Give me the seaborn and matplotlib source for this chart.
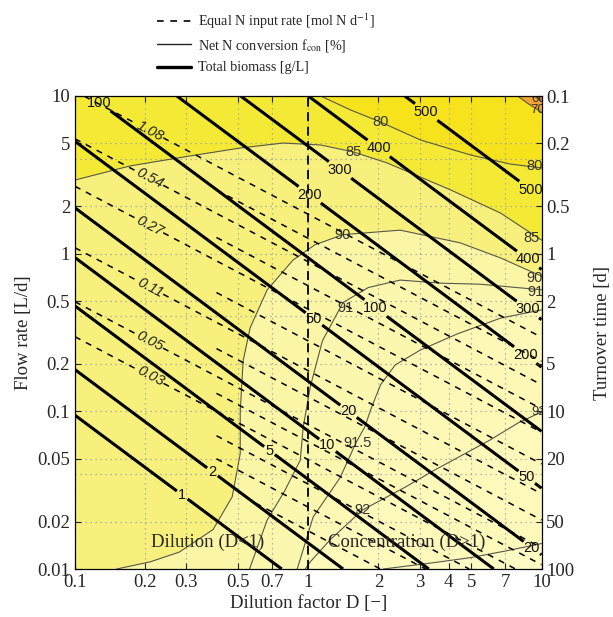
import numpy as np
import matplotlib
matplotlib.use("Agg")
import matplotlib.pyplot as plt
from matplotlib.lines import Line2D
from matplotlib.ticker import FixedLocator, FixedFormatter, NullLocator
import seaborn as sns

# net N conversion f_con [%] : contour lines, (D, Q) points
c60_d = [9.3, 9.7, 10.0]
c60_q = [10.0, 9.6, 9.2]
c70_d = [7.9, 8.8, 10.0]
c70_q = [10.0, 8.9, 7.9]
c80_d = [1.13, 1.52, 2.04, 3.03, 4.95, 7.36, 10.0]
c80_q = [10.0, 8.15, 6.84, 5.26, 4.23, 3.70, 3.50]
c85_d = [0.10, 0.172, 0.291, 0.511, 0.781, 1.13, 1.56, 2.18, 4.07, 6.67, 10.0]
c85_q = [2.93, 3.60, 4.10, 4.68, 5.03, 4.89, 4.42, 3.76, 2.54, 1.81, 1.22]
c90_d = [0.151, 0.21, 0.28, 0.391, 0.472, 0.511, 0.511, 0.526, 0.564, 0.667, 0.86,
         1.07, 1.41, 2.48, 4.49, 6.67, 10.0]
c90_q = [0.010, 0.0111, 0.0128, 0.0178, 0.0287, 0.054, 0.10, 0.21, 0.34, 0.59, 0.91,
         1.14, 1.32, 1.41, 1.17, 0.94, 0.72]
c91_d = [0.56, 0.667, 0.79, 0.924, 0.952, 1.02, 1.15, 1.41, 1.81, 2.48, 3.69, 5.47, 10.0]
c91_q = [0.010, 0.0205, 0.031, 0.049, 0.080, 0.143, 0.28, 0.49, 0.61, 0.68, 0.65, 0.64, 0.59]
c915_d = [0.897, 1.05, 1.37, 1.6, 1.75, 1.85, 2.04, 2.36, 3.03, 4.36, 6.67, 10.0]
c915_q = [0.010, 0.0214, 0.038, 0.063, 0.080, 0.102, 0.147, 0.197, 0.245, 0.31, 0.39, 0.44]
c92_d = [0.97, 1.02, 1.24, 1.71, 2.6, 3.44, 4.6, 6.04, 8.0, 10.0]
c92_q = [0.010, 0.0111, 0.0153, 0.0237, 0.033, 0.042, 0.053, 0.066, 0.085, 0.099]
c925_d = [2.1, 3.34, 4.95, 7.0, 10.0]
c925_q = [0.010, 0.0109, 0.0118, 0.013, 0.0145]

fcon_text = ["60", "70", "80", "80", "85", "85", "90", "90", "91", "91", "91.5", "92", "92"]
fcon_lab_d = [9.7, 9.6, 2.04, 9.3, 1.56, 9.1, 1.41, 9.3, 1.45, 9.4, 1.62, 1.71, 9.7]
fcon_lab_q = [9.6, 8.1, 6.84, 3.6, 4.42, 1.25, 1.32, 0.70, 0.45, 0.57, 0.063, 0.0237, 0.099]

# total biomass [g/L] : iso-lines of Q * D**1.1, levels
biomass_text = ["1", "2", "5", "10", "20", "50", "100", "200", "300", "400", "500"]
biomass_level = [0.0075, 0.0146, 0.037, 0.075, 0.155, 0.41, 0.94, 2.4, 4.8, 10.0, 28.5]
biomass_exp = 1.1
biomass_lab_d = [0.29, 0.387, 0.67, 1.21, 1.48, 1.05, 1.94, 0.128, 0.99, 1.30, 1.98, 3.2,
                 8.95, 8.71, 8.71, 8.71, 8.95, 9.4]
biomass_lab_q = [0.0298, 0.041, 0.0544, 0.061, 0.099, 0.38, 0.45, 9.2, 2.25, 3.07, 4.55, 7.9,
                 2.54, 0.91, 0.44, 0.238, 0.041, 0.0146]

# equal N input rate [mol N/d] : 0.608 * Q * D**0.78
nrate_labeled = [0.03, 0.05, 0.11, 0.27, 0.54, 1.08]
nrate_other = [0.0106, 0.015, 0.021, 0.039, 0.075, 0.17, 0.38, 0.76]
nrate_lab_q = [0.165, 0.28, 0.61, 1.5, 3.0, 6.0]
nrate_coef = 0.608
nrate_exp = 0.78
nrate_other_dmin = 0.4   # the unlabeled lines only show up right of D ~ 0.4

x_ticks = [0.1, 0.2, 0.3, 0.5, 0.7, 1, 2, 3, 4, 5, 7, 10]
x_ticklabels = ["0.1", "0.2", "0.3", "0.5", "0.7", "1", "2", "3", "4", "5", "7", "10"]
y_ticks = [0.01, 0.02, 0.05, 0.1, 0.2, 0.5, 1, 2, 5, 10]
y_ticklabels = ["0.01", "0.02", "0.05", "0.1", "0.2", "0.5", "1", "2", "5", "10"]
tau_ticks = [0.1, 0.2, 0.5, 1, 2, 5, 10, 20, 50, 100]
tau_ticklabels = ["0.1", "0.2", "0.5", "1", "2", "5", "10", "20", "50", "100"]

sns.set_style("ticks")
plt.rcParams["font.family"] = ["Liberation Serif", "DejaVu Serif"]
plt.rcParams["mathtext.fontset"] = "stix"
plt.rcParams["lines.dashed_pattern"] = [4.0, 4.0]
SANS = ["Liberation Sans", "DejaVu Sans"]

# colours of the f_con bands
col_lt60 = "#ec6a2c"
col_60 = "#f6a233"
col_70 = "#f7e31c"
col_80 = "#f4ea36"
col_85 = "#f7f07c"
col_90 = "#fbf6a5"
col_91 = "#fcf7ae"
col_915 = "#fdf8b5"
col_92 = "#fdf9bb"
col_925 = "#fefac3"
thin_col = "#57574a"

fig = plt.figure(figsize=(6.13, 6.17), dpi=100)
ax = fig.add_axes([75 / 613, 48 / 617, 466.5 / 613, 473 / 617])
ax.set_xscale("log")
ax.set_yscale("log")
lo, hi = 0.01, 10.0
ax.set_xlim(0.1, 10)
ax.set_ylim(lo, hi)
ax.set_facecolor(col_80)
ax.set_axisbelow("line")

# bands below/right of each curve, then the ones above the upper curves
ax.fill(c85_d + [10, 0.1], c85_q + [lo, lo], color=col_85, lw=0, zorder=0.2)
for d, q, c in [(c90_d, c90_q, col_90), (c91_d, c91_q, col_91), (c915_d, c915_q, col_915),
                (c92_d, c92_q, col_92), (c925_d, c925_q, col_925)]:
    ax.fill(d + [10], q + [lo], color=c, lw=0, zorder=0.2)
for d, q, c in [(c80_d, c80_q, col_70), (c70_d, c70_q, col_60), (c60_d, c60_q, col_lt60)]:
    ax.fill(d + [10], q + [hi], color=c, lw=0, zorder=0.2)

for d, q in [(c60_d, c60_q), (c70_d, c70_q), (c80_d, c80_q), (c85_d, c85_q), (c90_d, c90_q),
             (c91_d, c91_q), (c915_d, c915_q), (c92_d, c92_q), (c925_d, c925_q)]:
    sns.lineplot(x=d, y=q, sort=False, estimator=None, color=thin_col, lw=0.8, ax=ax, zorder=2)

for s, x, y in zip(fcon_text, fcon_lab_d, fcon_lab_q):
    ax.text(x, y, s, fontsize=10.5 if x < 9.6 else 9.5, family=SANS,
            color="#333333", ha="center", va="center", clip_on=True, zorder=4)

# straight iso-lines on a log grid
dd, qq = np.meshgrid(np.logspace(-1, 1, 400), np.logspace(-2, 1, 400))
s_field = qq * dd ** biomass_exp
n_field = nrate_coef * qq * dd ** nrate_exp
n_field = np.ma.masked_where(s_field < biomass_level[1], n_field)
n_field_other = np.ma.masked_where(dd < nrate_other_dmin, n_field)

ax.contour(dd, qq, n_field_other, levels=nrate_other, colors="k", linewidths=1.1,
           linestyles="dashed", zorder=2.5)
cs_n = ax.contour(dd, qq, n_field, levels=nrate_labeled, colors="k", linewidths=1.1,
                  linestyles="dashed", zorder=2.5)
n_texts = ax.clabel(cs_n, fmt={v: f"{v:g}" for v in nrate_labeled},
                    manual=list(zip([0.21] * len(nrate_labeled), nrate_lab_q)),
                    inline=True, inline_spacing=2, fontsize=10.5)
for t in n_texts:
    t.set_fontfamily(SANS)
    t.set_fontstyle("italic")
    t.set_color("#222222")

cs_b = ax.contour(dd, qq, s_field, levels=biomass_level, colors="k", linewidths=2.2, zorder=3)
b_texts = ax.clabel(cs_b, fmt=dict(zip(biomass_level, biomass_text)),
                    manual=list(zip(biomass_lab_d, biomass_lab_q)),
                    inline=True, inline_spacing=3, fontsize=10.5)
for t in b_texts:
    t.set_rotation(0)
    t.set_fontfamily(SANS)
    t.set_color("#111111")
    t.set_clip_box(ax.bbox)
    t.set_clip_on(True)

ax.axvline(1, color="k", lw=1.3, ls=(0, (5, 3)), zorder=2.6)

ax.text(0.372, 0.0147, "Dilution (D<1)", fontsize=13.5, ha="center", va="center", zorder=4)
ax.text(2.63, 0.0147, "Concentration (D>1)", fontsize=13.5, ha="center", va="center", zorder=4)

# axes, ticks and grid
ax.xaxis.set_major_locator(FixedLocator(x_ticks))
ax.xaxis.set_major_formatter(FixedFormatter(x_ticklabels))
ax.xaxis.set_minor_locator(NullLocator())
ax.yaxis.set_major_locator(FixedLocator(y_ticks))
ax.yaxis.set_major_formatter(FixedFormatter(y_ticklabels))
ax.yaxis.set_minor_locator(FixedLocator([0.04, 0.4, 4]))
ax.tick_params(which="major", direction="in", length=4, width=0.8, labelsize=13.5,
               top=True, right=False)
ax.tick_params(which="minor", length=0)
ax.grid(True, which="both", color="#a0a0a0", ls=(0, (1, 3)), lw=0.9)
ax.set_xlabel("Dilution factor D [\u2212]", fontsize=13.5, labelpad=3)
ax.set_ylabel("Flow rate [L/d]", fontsize=13.5, labelpad=4)
for sp in ax.spines.values():
    sp.set_color("k")
    sp.set_linewidth(0.8)

ax2 = ax.twinx()
ax2.set_yscale("log")
ax2.set_ylim(100, 0.1)
ax2.yaxis.set_major_locator(FixedLocator(tau_ticks))
ax2.yaxis.set_major_formatter(FixedFormatter(tau_ticklabels))
ax2.yaxis.set_minor_locator(NullLocator())
ax2.tick_params(direction="in", length=4, width=0.8, labelsize=13.5)
ax2.set_ylabel("Turnover time [d]", fontsize=13.5, labelpad=14)
for sp in ax2.spines.values():
    sp.set_color("k")
    sp.set_linewidth(0.8)

# legend: one entry per row, rows placed like the reference
legend_rows = [
    (Line2D([], [], color="k", lw=1.2, ls="dashed"), "Equal N input rate [mol N d$^{-1}$]", 21),
    (Line2D([], [], color="#222222", lw=1.0), "Net N conversion f$_\\mathrm{con}$ [%]", 45),
    (Line2D([], [], color="k", lw=2.4), "Total biomass [g/L]", 68),
]
for h, lab, ypx in legend_rows:
    fig.legend([h], [lab], loc="center left", bbox_to_anchor=(157 / 613, 1 - ypx / 617),
               frameon=False, fontsize=10.2, handlelength=2.4, handletextpad=0.5,
               borderpad=0, borderaxespad=0)

fig.savefig("out.png", dpi=100)
